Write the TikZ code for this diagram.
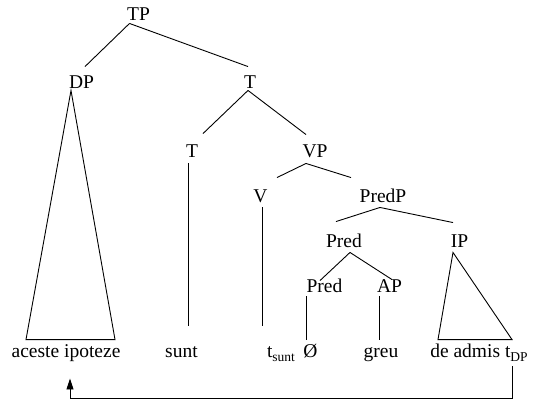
\documentclass[tikz,border=0pt]{standalone}
\usepackage{fontspec}
\setmainfont{Liberation Serif}
\usetikzlibrary{calc,arrows.meta}
\newcommand{\lowsub}[1]{\raisebox{-0.22em}{\fontsize{13.5}{15}\selectfont #1}}
\tikzset{every picture/.style={line width=0.9pt}}
\tikzset{
  cat/.style={inner sep=0pt, anchor=base, text height=13pt, text depth=0pt, font=\fontsize{19.5}{23}\selectfont},
  leaf/.style={inner sep=0pt, anchor=base, text height=13pt, text depth=4pt, font=\fontsize{19.5}{23}\selectfont},
  arr/.style={-{Triangle[length=11pt,width=7pt]}}
}
\begin{document}
\begin{tikzpicture}[x=1pt, y=-1pt]
        \useasboundingbox (0,0) rectangle (533,400);
        \node[cat] (TP) at (138.5,20) {TP};
        \node[cat] (DP) at (81.5,88) {DP};
        \node[cat] (Tbar) at (250,88) {T};
        \node[cat] (T) at (192,157) {T};
        \node[cat] (VP) at (315,157) {VP};
        \node[cat] (V) at (260.5,202) {V};
        \node[cat] (PredP) at (383,202) {PredP};
        \node[cat] (Predbar) at (344,247) {Pred};
        \node[cat] (IP) at (459.5,247) {IP};
        \node[cat] (Pred) at (324.5,292) {Pred};
        \node[cat] (AP) at (389.5,292) {AP};
        \node[leaf] (ace) at (66,357) {aceste ipoteze};
        \node[leaf] (sunt) at (181.5,357) {sunt};
        \node[leaf] (tsunt) at (281,357) {t\lowsub{sunt}};
        \node[leaf] (zero) at (310.5,357) {Ø};
        \node[leaf] (greu) at (381,357) {greu};
        \node[leaf] (adm) at (479,357) {de admis t\lowsub{DP}};
        \draw ($(TP.south)+(-9,3)$) -- ($(DP.north)+(3.5,-8)$);
        \draw ($(TP.south)+(-9,3)$) -- ($(Tbar.north)+(-2,-8)$);
        \draw ($(Tbar.south)+(-2,2)$) -- ($(T.north)+(11,-10)$);
        \draw ($(Tbar.south)+(-2,2)$) -- ($(VP.north)+(-9,-9)$);
        \draw ($(VP.south)+(-9,6)$) -- ($(V.north)+(16.5,-11)$);
        \draw ($(VP.south)+(-9,6)$) -- ($(PredP.north)+(-32,-11)$);
        \draw ($(PredP.south)+(-3,5)$) -- ($(Predbar.north)+(-8,-12)$);
        \draw ($(PredP.south)+(-3,5)$) -- ($(IP.north)+(-6.5,-11)$);
        \draw ($(Predbar.south)+(6,5)$) -- ($(Pred.north)+(-4.5,2)$);
        \draw ($(Predbar.south)+(6,5)$) -- ($(AP.north)+(2.5,1)$);
        \draw ($(T.south)+(-4,6)$) -- ($(sunt.north)+(6.5,-18)$);
        \draw ($(V.south)+(1.5,5)$) -- ($(tsunt.north)+(-19,-18)$);
        \draw ($(Pred.south)+(-18.5,4)$) -- ($(zero.north)+(-4.5,-4)$);
        \draw ($(AP.south)+(-10.5,4)$) -- ($(greu.north)+(-2,-4)$);
        \draw ($(DP.south)+(-10.5,2)$) -- ($(ace.north)+(-40,-4)$) -- ($(ace.north)+(49,-4)$) -- cycle;
        \draw ($(IP.south)+(-6.5,5)$) -- ($(adm.north)+(-41,-4)$) -- ($(adm.north)+(33,-4)$) -- cycle;
        \draw[arr] ($(adm.south)+(33,5)$) -- ++(0,32) -| ($(ace.south)+(4,17)$);
    \end{tikzpicture}
\end{document}
